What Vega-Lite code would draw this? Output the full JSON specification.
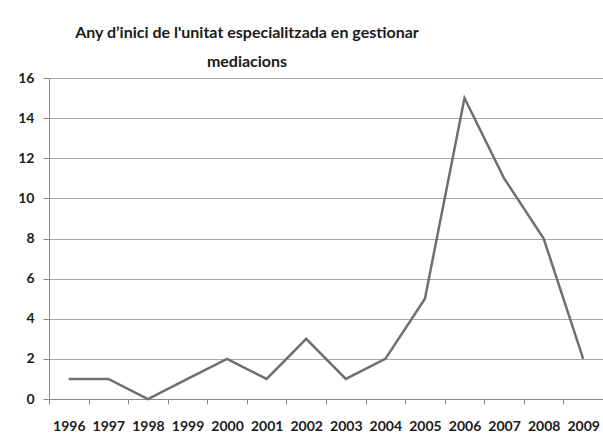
{
  "$schema": "https://vega.github.io/schema/vega-lite/v6.json",
  "autosize": {"type": "none"},
  "padding": {"left": 49, "top": 78, "right": 0, "bottom": 40},
  "width": 554,
  "height": 321,
  "background": "white",
  "title": {
    "text": ["Any d’inici de l'unitat especialitzada en gestionar", "mediacions"],
    "font": "Lato",
    "fontSize": 16,
    "fontWeight": "bold",
    "color": "#1a1a1a",
    "anchor": "middle",
    "dx": -79,
    "lineHeight": 29,
    "offset": 1
  },
  "data": {
    "values": [
      {"year": "1996", "count": 1},
      {"year": "1997", "count": 1},
      {"year": "1998", "count": 0},
      {"year": "1999", "count": 1},
      {"year": "2000", "count": 2},
      {"year": "2001", "count": 1},
      {"year": "2002", "count": 3},
      {"year": "2003", "count": 1},
      {"year": "2004", "count": 2},
      {"year": "2005", "count": 5},
      {"year": "2006", "count": 15},
      {"year": "2007", "count": 11},
      {"year": "2008", "count": 8},
      {"year": "2009", "count": 2}
    ]
  },
  "mark": {"type": "line", "color": "#6f6f6f", "strokeWidth": 2.5},
  "encoding": {
    "x": {
      "field": "year",
      "type": "ordinal",
      "scale": {"type": "band", "paddingInner": 0, "paddingOuter": 0},
      "axis": {
        "title": null,
        "labelAngle": 0,
        "tickBand": "extent",
        "labelFont": "Lato",
        "labelFontSize": 14,
        "labelFontWeight": "bold",
        "labelColor": "#1a1a1a",
        "labelPadding": 15,
        "tickSize": 5,
        "tickColor": "#8a8a8a",
        "domainColor": "#8a8a8a",
        "grid": false
      }
    },
    "y": {
      "field": "count",
      "type": "quantitative",
      "scale": {"domain": [0, 16], "nice": false},
      "axis": {
        "title": null,
        "values": [0, 2, 4, 6, 8, 10, 12, 14, 16],
        "labelFont": "Lato",
        "labelFontSize": 14,
        "labelFontWeight": "bold",
        "labelColor": "#1a1a1a",
        "labelPadding": 9,
        "tickSize": 6,
        "tickColor": "#8a8a8a",
        "domainColor": "#8a8a8a",
        "grid": true,
        "gridColor": "#a8a8a8",
        "gridOpacity": 1
      }
    }
  },
  "config": {"view": {"stroke": null}}
}
